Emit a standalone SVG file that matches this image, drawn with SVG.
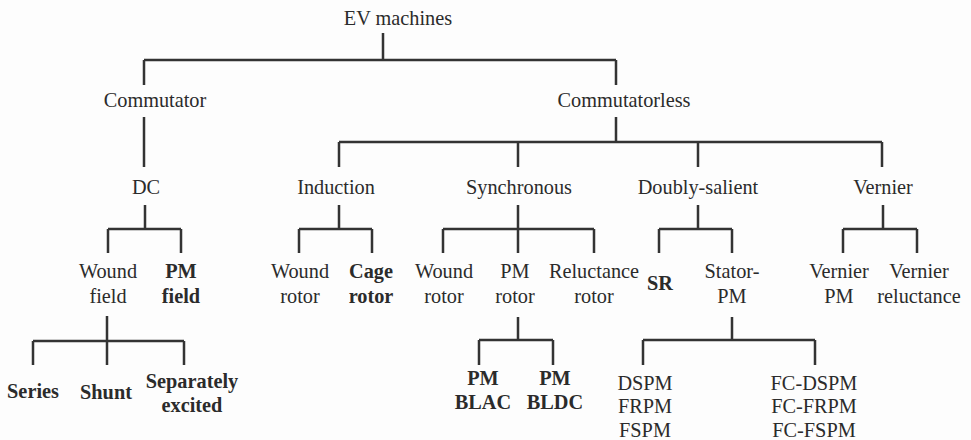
<svg xmlns="http://www.w3.org/2000/svg" width="971" height="440" viewBox="0 0 971 440">
<style>
text{font-family:"Liberation Serif",Tinos,"Times New Roman",serif;font-size:20.3px;fill:#2b2b2b;text-anchor:middle}
.b{font-weight:bold}
.c{fill:none;stroke:#333;stroke-width:2.5}
</style>
<rect width="971" height="440" fill="#fdfdfd"/>
<g id="connectors" class="c">
<path d="M383,33V60M144,60H616M144,60V85M616,60V85"/>
<path d="M144,117V167"/>
<path d="M616,117V142M339,142H882M339,142V167M518,142V167M698,142V167M882,142V167"/>
<path d="M145,205V229M108,229H181M108,229V253M181,229V253"/>
<path d="M107,316V341M33,341H184M33,341V365M107,341V365M184,341V365"/>
<path d="M339,205V229M299,229H372M299,229V253M372,229V253"/>
<path d="M518,205V253M443,229H594M443,229V253M594,229V253"/>
<path d="M518,317V340M479,340H553M479,340V365M553,340V365"/>
<path d="M698,205V229M659,229H732M659,229V253M732,229V253"/>
<path d="M732,317V340M643,340H815M643,340V365M815,340V365"/>
<path d="M883,205V229M843,229H917M843,229V253M917,229V253"/>
</g>
<g id="ev"><text x="398" y="25">EV machines</text></g>
<g id="commutator"><text x="155" y="107">Commutator</text></g>
<g id="commutatorless"><text x="624" y="107">Commutatorless</text></g>
<g id="dc"><text x="146" y="194">DC</text></g>
<g id="induction"><text x="336" y="194">Induction</text></g>
<g id="synchronous"><text x="519" y="194">Synchronous</text></g>
<g id="doubly-salient"><text x="698" y="194">Doubly-salient</text></g>
<g id="vernier"><text x="883" y="194">Vernier</text></g>
<g id="wound-field"><text x="108" y="278">Wound</text><text x="108" y="303">field</text></g>
<g id="pm-field"><text class="b" x="181" y="278">PM</text><text class="b" x="181" y="303">field</text></g>
<g id="wound-rotor-ind"><text x="300" y="278">Wound</text><text x="300" y="303">rotor</text></g>
<g id="cage-rotor"><text class="b" x="371" y="278">Cage</text><text class="b" x="371" y="303">rotor</text></g>
<g id="wound-rotor-sync"><text x="444" y="278">Wound</text><text x="444" y="303">rotor</text></g>
<g id="pm-rotor"><text x="515" y="278">PM</text><text x="515" y="303">rotor</text></g>
<g id="reluctance-rotor"><text x="594" y="278">Reluctance</text><text x="594" y="303">rotor</text></g>
<g id="sr"><text class="b" x="660" y="290">SR</text></g>
<g id="stator-pm"><text x="732" y="278">Stator-</text><text x="732" y="303">PM</text></g>
<g id="vernier-pm"><text x="839" y="278">Vernier</text><text x="839" y="303">PM</text></g>
<g id="vernier-reluctance"><text x="919" y="278">Vernier</text><text x="919" y="303">reluctance</text></g>
<g id="series"><text class="b" x="33" y="398">Series</text></g>
<g id="shunt"><text class="b" x="106" y="399">Shunt</text></g>
<g id="separately-excited"><text class="b" x="192" y="388">Separately</text><text class="b" x="192" y="412">excited</text></g>
<g id="pm-blac"><text class="b" x="483" y="385">PM</text><text class="b" x="483" y="409">BLAC</text></g>
<g id="pm-bldc"><text class="b" x="555" y="385">PM</text><text class="b" x="555" y="409">BLDC</text></g>
<g id="dspm-group"><text x="645" y="390">DSPM</text><text x="645" y="413">FRPM</text><text x="645" y="437">FSPM</text></g>
<g id="fc-group"><text x="814" y="390">FC-DSPM</text><text x="814" y="413">FC-FRPM</text><text x="814" y="437">FC-FSPM</text></g>
</svg>
